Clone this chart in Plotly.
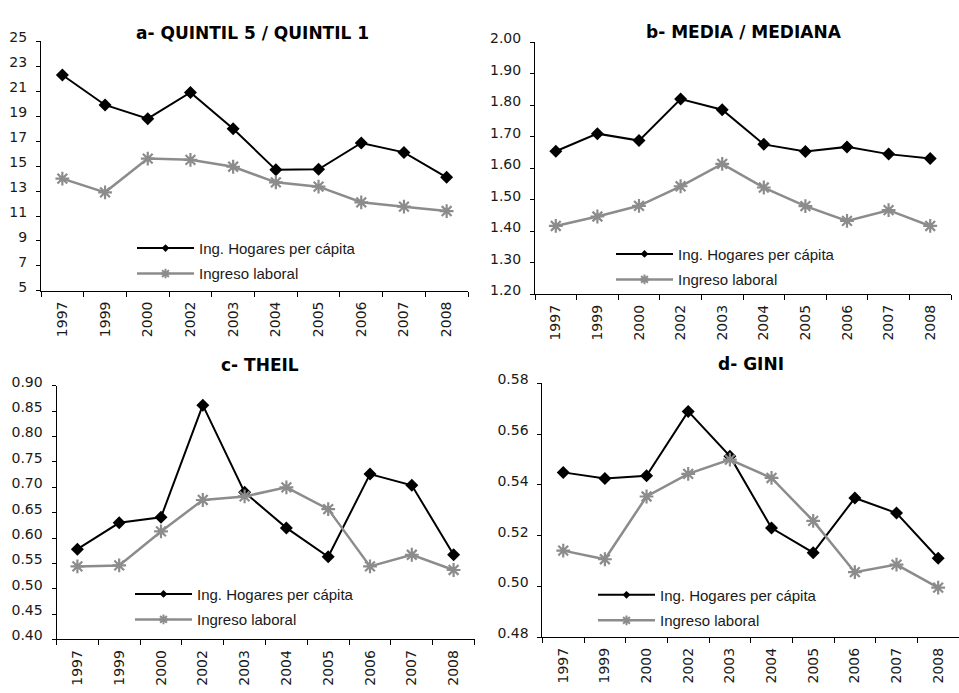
import plotly.graph_objects as go
from plotly.subplots import make_subplots

W, H = 959, 693

years = ["1997", "1999", "2000", "2002", "2003", "2004", "2005", "2006", "2007", "2008"]
series_names = ["Ing. Hogares per cápita", "Ingreso laboral"]

# a- QUINTIL 5 / QUINTIL 1
quintil_hogares = [22.3, 19.9, 18.8, 20.9, 18.0, 14.7, 14.75, 16.85, 16.1, 14.1]
quintil_laboral = [14.0, 12.9, 15.6, 15.5, 14.95, 13.7, 13.35, 12.1, 11.75, 11.4]
# b- MEDIA / MEDIANA
media_hogares = [1.654, 1.710, 1.688, 1.820, 1.786, 1.676, 1.653, 1.668, 1.645, 1.631]
media_laboral = [1.417, 1.447, 1.481, 1.543, 1.614, 1.539, 1.480, 1.433, 1.467, 1.417]
# c- THEIL
theil_hogares = [0.578, 0.630, 0.641, 0.862, 0.690, 0.620, 0.563, 0.726, 0.704, 0.567]
theil_laboral = [0.544, 0.546, 0.613, 0.675, 0.682, 0.700, 0.657, 0.544, 0.567, 0.537]
# d- GINI
gini_hogares = [0.5449, 0.5425, 0.5436, 0.5689, 0.5513, 0.5230, 0.5133, 0.5348, 0.5289, 0.5111]
gini_laboral = [0.5141, 0.5107, 0.5354, 0.5443, 0.5499, 0.5427, 0.5258, 0.5056, 0.5086, 0.4995]

titles = ["a- QUINTIL 5 / QUINTIL 1", "b- MEDIA / MEDIANA", "c- THEIL", "d- GINI"]
y_ranges = [[5, 25], [1.20, 2.00], [0.40, 0.90], [0.48, 0.58]]
y_dticks = [2, 0.10, 0.05, 0.02]
y_formats = ["d", ".2f", ".2f", ".2f"]

def px_x(x):
    return x / W

def px_y(y):
    return 1 - y / H

# pixel boxes of plot areas: (left, right, top, bottom)
boxes = [(41, 468, 30, 285.5), (535, 951, 31, 289), (56.5, 474.5, 382.7, 642.3), (542.4, 959, 380, 640)]
title_pos = [(252, 21), (744, 20), (260, 361), (751, 360.5)]
legend_pos = [(132, 225), (611, 231), (130, 579), (593, 580)]

data = [(quintil_hogares, quintil_laboral), (media_hogares, media_laboral),
        (theil_hogares, theil_laboral), (gini_hogares, gini_laboral)]

fig = make_subplots(rows=2, cols=2)

BLACK = "#000000"
GRAY = "#8c8c8c"
tick_font = dict(family="DejaVu Sans", size=14, color="#1a1a1a")

for i, (hog, lab) in enumerate(data):
    r, c = i // 2 + 1, i % 2 + 1
    leg = "legend" if i == 0 else f"legend{i+1}"
    fig.add_trace(go.Scatter(
        x=years, y=hog, mode="lines+markers", name=series_names[0],
        line=dict(color=BLACK, width=2),
        marker=dict(symbol="diamond", size=10, color=BLACK),
        showlegend=False), row=r, col=c)
    fig.add_trace(go.Scatter(
        x=years, y=lab, mode="lines+markers", name=series_names[1],
        line=dict(color=GRAY, width=2.5),
        marker=dict(symbol="asterisk-open", size=11.5, color=GRAY, line=dict(color=GRAY, width=2.2)),
        showlegend=False), row=r, col=c)
    # legend entries (smaller symbols, as in the reference legend)
    fig.add_trace(go.Scatter(
        x=[None], y=[None], mode="lines+markers", name=series_names[0],
        line=dict(color=BLACK, width=2),
        marker=dict(symbol="diamond", size=6, color=BLACK),
        legend=leg, legendgroup=f"g{i}a", showlegend=True, hoverinfo="skip"), row=r, col=c)
    fig.add_trace(go.Scatter(
        x=[None], y=[None], mode="lines+markers", name=series_names[1],
        line=dict(color=GRAY, width=2.5),
        marker=dict(symbol="asterisk-open", size=8, color=GRAY, line=dict(color=GRAY, width=2)),
        legend=leg, legendgroup=f"g{i}b", showlegend=True, hoverinfo="skip"), row=r, col=c)

layout_updates = {}
for i in range(4):
    l, rgt, t, b = boxes[i]
    xa = "xaxis" if i == 0 else f"xaxis{i+1}"
    ya = "yaxis" if i == 0 else f"yaxis{i+1}"
    layout_updates[xa] = dict(
        domain=[px_x(l), min(1.0, px_x(rgt))], type="category", range=[-0.5, 9.5],
        tickson="boundaries", ticks="outside", ticklen=5, tickwidth=1, tickcolor=BLACK,
        showline=True, linecolor=BLACK, linewidth=1, showgrid=False, zeroline=False,
        tickangle=-90, tickfont=tick_font, ticklabelstandoff=4, fixedrange=True)
    layout_updates[ya] = dict(
        domain=[px_y(b), px_y(t)], range=y_ranges[i], dtick=y_dticks[i], tick0=y_ranges[i][0],
        tickformat=y_formats[i], ticks="outside", ticklen=4, tickwidth=1, tickcolor=BLACK,
        showline=True, linecolor=BLACK, linewidth=1, showgrid=False, zeroline=False,
        tickfont=tick_font, ticklabelstandoff=6, ticklabelshift=-4, fixedrange=True)
    leg = "legend" if i == 0 else f"legend{i+1}"
    lx, ly = legend_pos[i]
    layout_updates[leg] = dict(
        x=px_x(lx), y=px_y(ly), xanchor="left", yanchor="top", xref="paper", yref="paper",
        bgcolor="rgba(0,0,0,0)", borderwidth=0, tracegroupgap=3, traceorder="grouped",
        font=dict(family="Liberation Sans", size=15, color="#1a1a1a"), itemwidth=57)

fig.update_layout(**layout_updates)

for i, tt in enumerate(titles):
    tx, ty = title_pos[i]
    fig.add_annotation(text=f"<b>{tt}</b>", x=px_x(tx), y=px_y(ty), xref="paper", yref="paper",
                       xanchor="center", yanchor="middle", showarrow=False,
                       font=dict(family="DejaVu Sans", size=17, color="#000000"))

fig.update_layout(width=W, height=H, margin=dict(l=0, r=0, t=0, b=0),
                  paper_bgcolor="white", plot_bgcolor="white", showlegend=True)

fig.write_html("out.html", config={"displayModeBar": False},
               post_script="document.body.style.margin='0';document.body.style.overflow='hidden';")
